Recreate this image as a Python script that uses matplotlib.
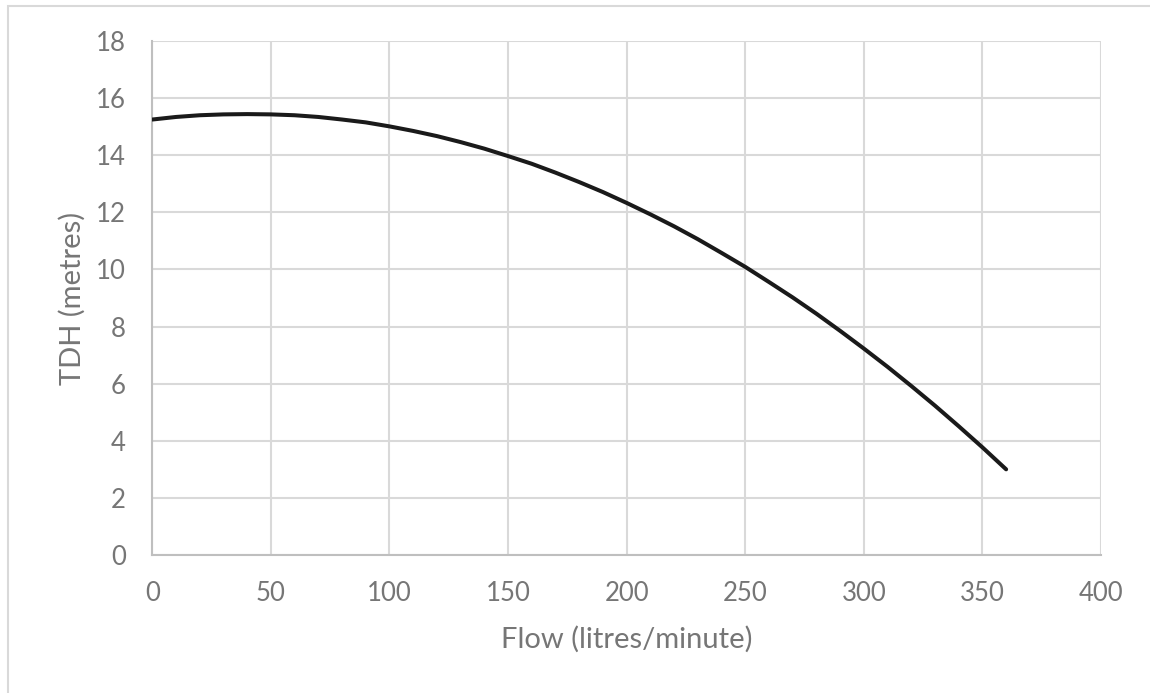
import matplotlib
matplotlib.use('Agg')
import matplotlib.pyplot as plt
from matplotlib.patches import Rectangle

# Pump curve (flow in l/min, head in m)
flow = [0, 10, 20, 30, 40, 50, 60, 70, 80, 90,
        100, 110, 120, 130, 140, 150, 160, 170, 180, 190,
        200, 210, 220, 230, 240, 250, 260, 270, 280, 290,
        300, 310, 320, 330, 340, 350, 360]
tdh = [15.25, 15.34, 15.40, 15.43, 15.44, 15.43, 15.40, 15.34, 15.25, 15.15,
       15.01, 14.85, 14.67, 14.46, 14.23, 13.97, 13.70, 13.39, 13.06, 12.71,
       12.33, 11.93, 11.51, 11.06, 10.58, 10.09, 9.56, 9.02, 8.45, 7.85,
       7.23, 6.59, 5.92, 5.23, 4.51, 3.77, 3.00]

x_ticks = [0, 50, 100, 150, 200, 250, 300, 350, 400]
y_ticks = [0, 2, 4, 6, 8, 10, 12, 14, 16, 18]

text_col = '#767676'
grid_col = '#d9d9d9'
axis_col = '#bfbfbf'

plt.rcParams['font.family'] = ['Lato', 'DejaVu Sans']

fig = plt.figure(figsize=(11.5, 6.93), dpi=100)
fig.patch.set_facecolor('white')

# outer chart border (cropped on right / bottom)
fig.patches.append(Rectangle((8 / 1150, -0.1), 1.2, 1 - 6 / 693 + 0.1,
                             transform=fig.transFigure, fill=False,
                             edgecolor=grid_col, linewidth=1.5))

ax = fig.add_axes([152.3 / 1150, 1 - 555 / 693, (1101 - 152.3) / 1150, (555 - 41) / 693])

ax.plot(flow, tdh, color='#1a1a1a', linewidth=2.9, solid_capstyle='round', zorder=3)

ax.set_xlim(0, 400)
ax.set_ylim(0, 18)
ax.set_xticks(x_ticks)
ax.set_yticks(y_ticks)
ax.grid(True, color=grid_col, linewidth=1.5)
ax.set_axisbelow(True)

for side in ['top', 'right']:
    ax.spines[side].set_visible(False)
for side in ['left', 'bottom']:
    ax.spines[side].set_color(axis_col)
    ax.spines[side].set_linewidth(1.5)

ax.tick_params(axis='both', length=0, labelsize=18.5, labelcolor=text_col)
ax.tick_params(axis='x', pad=19)
ax.tick_params(axis='y', pad=19)

ax.set_xlabel('Flow (litres/minute)', fontsize=21, color=text_col, labelpad=14)
ax.set_ylabel('TDH (metres)', fontsize=21, color=text_col, labelpad=7)

fig.savefig('out.png', dpi=100)
